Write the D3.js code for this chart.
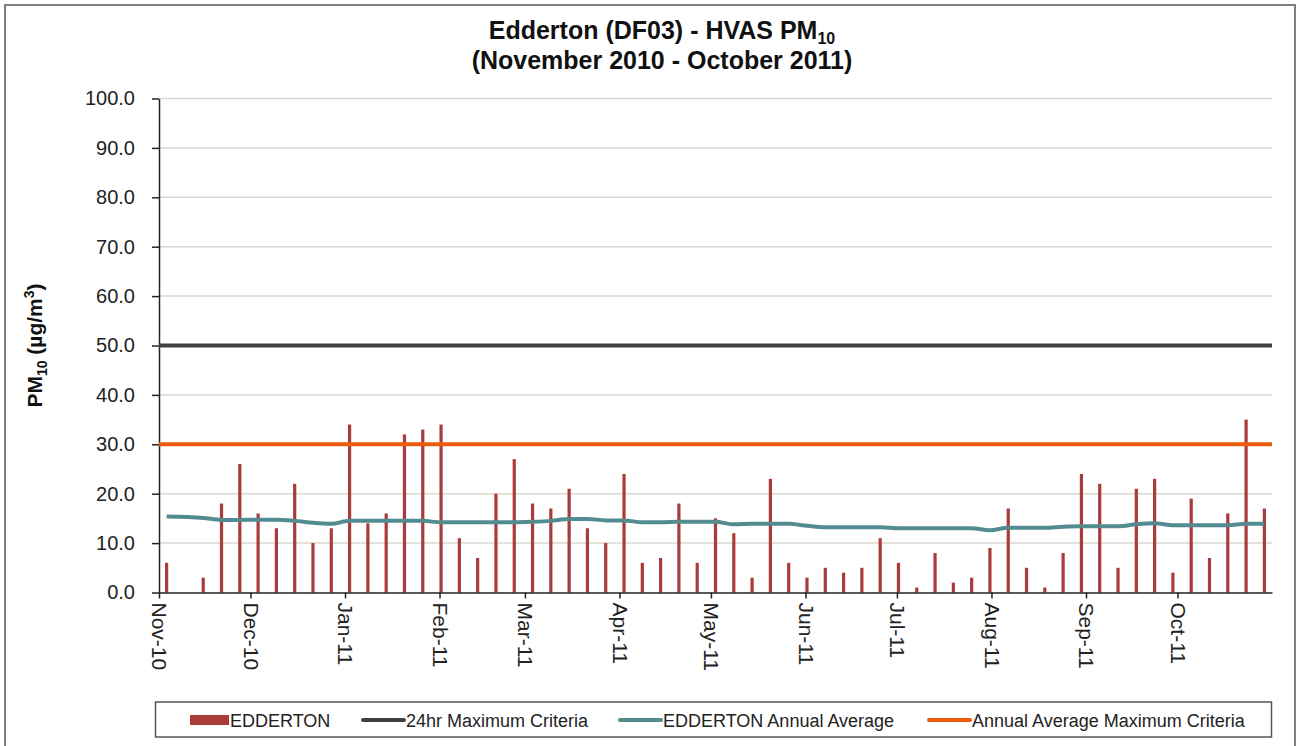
<!DOCTYPE html>
<html>
<head>
<meta charset="utf-8">
<script src="https://cdn.jsdelivr.net/npm/d3@7"></script>
<style>
    body { margin: 0; background: #fff; }
    text { font-family: "Liberation Sans", Arial, sans-serif; }
</style>
</head>
<body>
<div id="chart"></div>
<script>
const sampleDates = [
    "2010-11-03", "2010-11-15", "2010-11-21", "2010-11-27",
    "2010-12-03", "2010-12-09", "2010-12-15", "2010-12-21", "2010-12-27",
    "2011-01-02", "2011-01-08", "2011-01-14", "2011-01-20", "2011-01-26",
    "2011-02-01", "2011-02-07", "2011-02-13", "2011-02-19", "2011-02-25",
    "2011-03-03", "2011-03-09", "2011-03-15", "2011-03-21", "2011-03-27",
    "2011-04-02", "2011-04-08", "2011-04-14", "2011-04-20", "2011-04-26",
    "2011-05-02", "2011-05-08", "2011-05-14", "2011-05-20", "2011-05-26",
    "2011-06-01", "2011-06-07", "2011-06-13", "2011-06-19", "2011-06-25",
    "2011-07-01", "2011-07-07", "2011-07-13", "2011-07-19", "2011-07-25", "2011-07-31",
    "2011-08-06", "2011-08-12", "2011-08-18", "2011-08-24", "2011-08-30",
    "2011-09-05", "2011-09-11", "2011-09-17", "2011-09-23", "2011-09-29",
    "2011-10-05", "2011-10-11", "2011-10-17", "2011-10-23", "2011-10-29"
]
const eddertonValues = [
    6, 3, 18, 26,
    16, 13, 22, 10, 13,
    34, 14, 16, 32, 33,
    34, 11, 7, 20, 27,
    18, 17, 21, 13, 10,
    24, 6, 7, 18, 6,
    15, 12, 3, 23, 6,
    3, 5, 4, 5, 11,
    6, 1, 8, 2, 3, 9,
    17, 5, 1, 8, 24,
    22, 5, 21, 23, 4,
    19, 7, 16, 35, 17
]
const annualAverage = [
    15.4, 15.1, 14.7, 14.7,
    14.75, 14.75, 14.5, 14.1, 13.9,
    14.5, 14.5, 14.5, 14.5, 14.5,
    14.2, 14.2, 14.2, 14.2, 14.2,
    14.3, 14.5, 14.9, 14.9, 14.6,
    14.6, 14.2, 14.2, 14.3, 14.3,
    14.3, 13.8, 13.9, 13.9, 13.9,
    13.5, 13.2, 13.2, 13.2, 13.2,
    13.0, 13.0, 13.0, 13.0, 13.0, 12.6,
    13.1, 13.1, 13.1, 13.3, 13.4,
    13.4, 13.4, 13.8, 14.0, 13.6,
    13.6, 13.6, 13.6, 13.9, 13.9
]
const criteria24hr = 50
const criteriaAnnual = 30
const yTicks = [0, 10, 20, 30, 40, 50, 60, 70, 80, 90, 100]
const xDomainDates = ["2010-11-01", "2011-11-01"]
const legendLabels = ["EDDERTON", "24hr Maximum Criteria", "EDDERTON Annual Average", "Annual Average Maximum Criteria"]

const barColor = "#ab3a3a"
const blackColor = "#404040"
const tealColor = "#538c90"
const orangeColor = "#ea5b0c"

const width = 1300
const height = 746
const marginLeft = 159
const marginRight = 28
const marginTop = 98.5
const plotBottom = 592.5

const parseDate = d3.timeParse("%Y-%m-%d")

function buildData() {
    return sampleDates.map((d, i) => {
        const day = parseDate(d)
        return { date: d3.timeHour.offset(day, 12), value: eddertonValues[i], avg: annualAverage[i] }
    })
}

function drawChart() {
    const data = buildData()
    const xDomain = xDomainDates.map(parseDate)

    const xScale = d3.scaleTime(xDomain, [marginLeft, width - marginRight])
    const yScale = d3.scaleLinear([0, 100], [plotBottom, marginTop])

    const svg = d3.select("#chart")
        .append("svg")
        .attr("width", width)
        .attr("height", height)
        .attr("viewBox", [0, 0, width, height])

    // outer frame
    svg.append("rect")
        .attr("x", 5).attr("y", 5)
        .attr("width", width - 10).attr("height", height)
        .attr("fill", "#fff")
        .attr("stroke", "#7f7f7f")
        .attr("stroke-width", 2)

    // title
    const title = svg.append("text")
        .attr("x", 662).attr("y", 39)
        .attr("text-anchor", "middle")
        .attr("font-size", 25).attr("font-weight", "bold").attr("fill", "#111")
    title.append("tspan").text("Edderton (DF03) - HVAS PM")
    title.append("tspan").attr("font-size", 16).attr("dy", 5).text("10")

    svg.append("text")
        .attr("x", 662).attr("y", 69)
        .attr("text-anchor", "middle")
        .attr("font-size", 25).attr("font-weight", "bold").attr("fill", "#111")
        .text("(November 2010 - October 2011)")

    // gridlines
    svg.append("g")
        .selectAll("line")
        .data(yTicks.filter(t => t > 0))
        .join("line")
            .attr("x1", marginLeft)
            .attr("x2", width - marginRight)
            .attr("y1", t => yScale(t))
            .attr("y2", t => yScale(t))
            .attr("stroke", "#d9d9cf")
            .attr("stroke-width", 1.5)

    // y axis
    const yAxis = d3.axisLeft(yScale)
        .tickValues(yTicks)
        .tickFormat(d3.format(".1f"))
        .tickSize(7)
        .tickSizeOuter(0)
        .tickPadding(17)
    const gy = svg.append("g")
        .attr("transform", `translate(${marginLeft},0)`)
        .call(yAxis)
    gy.selectAll("text").attr("font-size", 20).attr("fill", "#222").style("font-family", "Liberation Sans, Arial, sans-serif")
    gy.selectAll("line,path").attr("stroke", "#222").attr("stroke-width", 1.5)

    const yLabel = svg.append("text")
        .attr("transform", `translate(42,${(marginTop + plotBottom) / 2}) rotate(-90)`)
        .attr("text-anchor", "middle")
        .attr("font-size", 21).attr("font-weight", "bold").attr("fill", "#111")
    yLabel.append("tspan").text("PM")
    yLabel.append("tspan").attr("font-size", 14).attr("dy", 5).text("10")
    yLabel.append("tspan").attr("dy", -5).text(" (µg/m")
    yLabel.append("tspan").attr("font-size", 14).attr("dy", -8).text("3")
    yLabel.append("tspan").attr("dy", 8).text(")")

    // bars
    svg.append("g")
        .selectAll("rect")
        .data(data)
        .join("rect")
            .attr("x", d => xScale(d.date) - 1.6)
            .attr("y", d => yScale(d.value))
            .attr("width", 3.2)
            .attr("height", d => yScale(0) - yScale(d.value))
            .attr("fill", barColor)

    // x axis
    const xAxis = d3.axisBottom(xScale)
        .tickValues(d3.timeMonth.range(xDomain[0], xDomain[1]))
        .tickFormat(d3.timeFormat("%b-%y"))
        .tickSize(6)
        .tickSizeOuter(0)
    const gx = svg.append("g")
        .attr("transform", `translate(0,${plotBottom})`)
        .call(xAxis)
    gx.selectAll("line,path").attr("stroke", "#222").attr("stroke-width", 1.5)
    gx.selectAll("text")
        .attr("font-size", 21).attr("fill", "#222")
        .style("font-family", "Liberation Sans, Arial, sans-serif")
        .attr("text-anchor", "start")
        .attr("dy", "0.35em")
        .attr("y", 0)
        .attr("transform", "translate(0,10) rotate(90)")

    // criteria lines
    const xr = xScale.range()
    svg.append("line")
        .attr("x1", xr[0]).attr("x2", xr[1])
        .attr("y1", yScale(criteria24hr)).attr("y2", yScale(criteria24hr))
        .attr("stroke", blackColor).attr("stroke-width", 4)

    const avgLine = d3.line()
        .x(d => xScale(d.date))
        .y(d => yScale(d.avg))
        .curve(d3.curveMonotoneX)
    svg.append("path")
        .datum(data)
        .attr("d", avgLine)
        .attr("fill", "none")
        .attr("stroke", tealColor)
        .attr("stroke-width", 4)

    svg.append("line")
        .attr("x1", xr[0]).attr("x2", xr[1])
        .attr("y1", yScale(criteriaAnnual)).attr("y2", yScale(criteriaAnnual))
        .attr("stroke", orangeColor).attr("stroke-width", 4)

    drawLegend(svg)
}

function drawLegend(svg) {
    svg.append("rect")
        .attr("x", 155.5).attr("y", 702)
        .attr("width", 1116).attr("height", 35)
        .attr("fill", "#fff")
        .attr("stroke", "#555")
        .attr("stroke-width", 1.5)

    const items = [
        { label: legendLabels[0], color: barColor, type: "box", x: 190 },
        { label: legendLabels[1], color: blackColor, type: "line", x: 363 },
        { label: legendLabels[2], color: tealColor, type: "line", x: 620 },
        { label: legendLabels[3], color: orangeColor, type: "line", x: 929 }
    ]
    const cy = 720
    const g = svg.append("g")
    items.forEach(item => {
        if (item.type === "box") {
            g.append("rect")
                .attr("x", item.x).attr("y", cy - 5)
                .attr("width", 39).attr("height", 10)
                .attr("fill", item.color)
        } else {
            g.append("line")
                .attr("x1", item.x).attr("x2", item.x + 41)
                .attr("y1", cy).attr("y2", cy)
                .attr("stroke", item.color).attr("stroke-width", 4)
                .attr("stroke-linecap", "round")
        }
        g.append("text")
            .attr("x", item.type === "box" ? item.x + 40 : item.x + 43)
            .attr("y", cy + 6.5)
            .attr("font-size", 18).attr("fill", "#222")
            .text(item.label)
    })
}

drawChart()
</script>
</body>
</html>
